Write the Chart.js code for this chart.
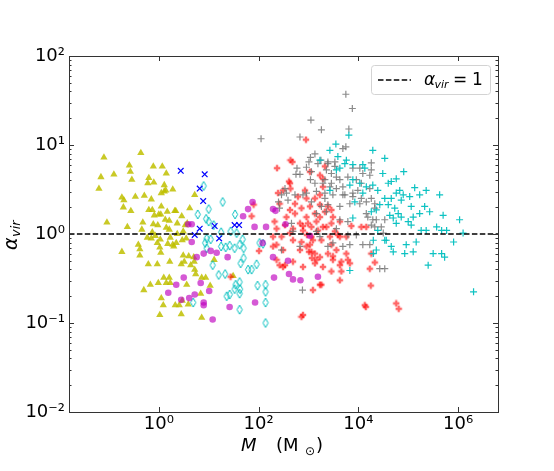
<!DOCTYPE html>
<html>
<head>
<meta charset="utf-8">
<script src="https://cdn.jsdelivr.net/npm/chart.js@4/dist/chart.umd.min.js"></script>
<style>
  html, body { margin: 0; padding: 0; background: #fff; }
  #wrap { width: 554px; height: 471px; }
</style>
</head>
<body>
<div id="wrap"><canvas id="virialChart" width="554" height="471"></canvas></div>
<script>
// values as [log10 M (Msun), log10 alpha_vir]
const yellowTriangles = [[-1.10,0.86],[-0.36,0.91],[-1.16,0.64],[-0.90,0.67],[-1.20,0.51],[-1.04,0.13],[-0.74,-0.20],[-0.59,0.77],[-0.57,0.70],[-0.54,0.61],[-0.74,0.41],[-0.70,0.38],[-0.47,0.42],[-0.71,0.30],[-0.56,0.26],[-0.63,0.08],[-0.32,0.13],[-0.11,0.76],[0.07,0.76],[0.15,0.68],[-0.20,0.63],[-0.22,0.57],[-0.10,0.58],[-0.29,0.43],[-0.15,0.39],[0.11,0.55],[0.11,0.48],[0.05,0.46],[0.14,0.49],[0.28,0.50],[0.05,0.31],[-0.20,0.27],[-0.13,0.27],[0.00,0.22],[0.04,0.22],[0.17,0.25],[0.32,0.26],[0.34,0.26],[0.62,0.29],[0.72,0.44],[0.46,0.20],[-0.09,0.21],[0.13,0.16],[0.21,0.15],[-0.11,0.11],[-0.02,0.10],[0.15,0.07],[0.21,0.05],[0.37,0.12],[0.53,0.10],[0.57,0.12],[0.49,0.03],[-0.34,0.05],[-0.23,-0.04],[-0.13,0.02],[-0.07,-0.02],[-0.15,-0.05],[0.03,-0.06],[-0.03,-0.10],[0.23,-0.04],[0.37,0.00],[0.28,-0.12],[0.18,-0.11],[0.35,-0.10],[0.30,-0.14],[0.47,-0.07],[0.55,-0.05],[0.02,-0.15],[-0.41,-0.12],[-0.38,-0.17],[-0.38,-0.24],[0.04,-0.21],[0.22,-0.31],[0.49,-0.24],[0.51,-0.31],[0.60,-0.25],[0.70,-0.26],[-0.21,-0.34],[-0.03,-0.34],[0.45,-0.34],[0.64,-0.35],[0.71,-0.31],[0.72,-0.40],[0.74,-0.45],[0.10,-0.49],[0.15,-0.55],[0.23,-0.55],[0.21,-0.49],[0.86,-0.49],[0.94,-0.49],[1.03,-0.58],[-0.17,-0.57],[-0.30,-0.63],[0.05,-0.72],[0.33,-0.80],[0.41,-0.80],[0.09,-0.80],[0.47,-0.75],[0.59,-0.79],[0.84,-0.67],[0.56,-0.57],[-0.01,-0.55],[0.86,-0.94],[1.49,-0.47],[0.02,-0.91],[1.11,-0.29],[0.45,-0.90]];
const blueCrosses = [[0.44,0.71],[0.92,0.67],[0.82,0.51],[0.89,0.37],[1.12,0.09],[0.82,0.06],[0.72,-0.01],[1.21,-0.05],[1.52,0.10],[1.61,0.10]];
const cyanDiamonds = [[0.90,0.54],[1.28,0.36],[1.00,0.28],[0.78,0.22],[0.95,0.17],[1.00,0.14],[1.10,0.10],[1.25,0.02],[1.53,0.22],[1.44,0.03],[1.56,0.01],[0.96,-0.05],[1.04,-0.06],[0.96,-0.16],[0.93,-0.10],[1.25,-0.14],[1.34,-0.15],[1.42,-0.13],[1.68,-0.06],[1.70,-0.16],[1.62,-0.12],[1.52,-0.16],[1.70,-0.27],[1.64,-0.33],[1.08,-0.35],[1.20,-0.46],[1.33,-0.45],[1.96,-0.34],[1.79,-0.40],[1.54,-0.57],[1.62,-0.54],[1.52,-0.62],[1.63,-0.62],[1.36,-0.70],[1.42,-0.68],[1.62,-0.67],[0.69,-0.77],[1.62,-0.85],[1.98,-0.58],[2.14,-0.57],[2.14,-0.65],[2.14,-0.77],[2.14,-1.00],[2.02,-0.10],[2.09,-0.11],[1.86,-0.40]];
const magentaCircles = [[0.59,0.11],[0.66,0.11],[0.66,-0.09],[0.76,-0.26],[0.90,-0.22],[1.04,-0.19],[1.16,-0.21],[1.38,-0.26],[0.50,-0.49],[0.35,-0.57],[0.19,-0.66],[0.72,-0.68],[0.84,-0.55],[0.61,-0.72],[0.45,-0.74],[0.90,-0.77],[0.90,-0.80],[1.42,-0.82],[1.08,-0.96],[1.93,-0.77],[1.88,0.36],[1.79,0.28],[1.69,0.20],[1.92,0.08],[2.15,0.08],[2.29,0.28],[2.34,0.26],[2.54,0.11],[2.08,-0.10],[2.29,-0.26],[2.59,-0.30],[2.61,-0.45],[2.69,-0.51],[2.84,-0.52],[3.19,-0.48],[2.31,-0.49],[3.03,-0.02],[1.01,-0.64]];
const redPlus = [[2.95,1.06],[2.68,0.81],[2.37,0.74],[2.64,0.83],[3.03,0.70],[3.23,0.66],[3.33,0.76],[3.29,0.62],[2.61,0.59],[2.63,0.57],[2.64,0.51],[2.39,0.46],[2.49,0.49],[2.93,0.49],[3.23,0.44],[3.29,0.53],[2.42,0.34],[2.63,0.27],[2.86,0.29],[3.03,0.31],[3.23,0.33],[3.39,0.31],[2.73,0.34],[2.79,0.42],[2.96,0.40],[3.13,0.40],[2.56,0.19],[2.73,0.23],[2.96,0.19],[3.13,0.23],[3.33,0.25],[3.46,0.27],[3.23,0.19],[3.49,0.19],[2.32,0.14],[2.36,0.06],[2.53,0.10],[2.69,0.06],[2.83,0.12],[2.99,0.12],[3.06,0.08],[3.16,0.14],[3.29,0.08],[3.36,0.08],[3.46,0.12],[3.63,0.14],[3.53,0.03],[2.89,0.04],[2.97,-0.01],[3.19,0.04],[2.89,0.09],[2.29,-0.03],[2.46,-0.03],[2.63,0.01],[2.69,-0.07],[2.86,-0.09],[3.06,-0.03],[3.09,-0.07],[3.26,-0.07],[3.43,-0.03],[3.59,-0.01],[3.63,-0.03],[3.76,-0.03],[2.36,-0.12],[2.29,-0.14],[2.49,-0.18],[2.83,-0.18],[2.96,-0.14],[3.03,-0.12],[3.01,-0.20],[3.06,-0.20],[3.13,-0.22],[3.23,-0.26],[3.39,-0.22],[3.46,-0.12],[3.49,-0.25],[3.56,-0.18],[3.76,-0.22],[2.01,-0.19],[2.36,-0.29],[2.42,-0.35],[2.53,-0.35],[2.49,-0.37],[2.69,-0.31],[2.89,-0.37],[3.07,-0.27],[3.13,-0.33],[3.16,-0.29],[3.29,-0.37],[3.49,-0.29],[3.66,-0.31],[3.79,-0.29],[3.63,-0.35],[3.83,-0.33],[3.46,-0.42],[3.66,-0.42],[3.09,-0.63],[3.23,-0.57],[3.26,-0.57],[3.63,-0.52],[2.86,-0.93],[2.89,-0.91],[4.25,-0.58],[4.15,-0.82],[4.13,-0.80],[4.33,-0.32],[4.26,-0.22],[4.23,-0.39],[4.06,0.08],[4.16,0.08],[3.86,0.09],[1.86,0.20],[1.90,0.33],[1.44,-0.48],[4.76,-0.78],[4.81,-0.84]];
const grayPlus = [[3.75,1.57],[3.88,1.41],[3.05,1.28],[3.26,1.17],[2.05,1.07],[2.83,1.09],[3.81,1.18],[3.75,0.98],[3.69,0.96],[3.13,0.90],[3.04,0.86],[3.01,0.81],[3.25,0.83],[3.39,0.81],[3.19,0.79],[3.39,0.79],[3.53,0.81],[3.53,0.76],[2.77,0.74],[2.83,0.67],[2.75,0.67],[2.96,0.75],[3.06,0.70],[3.36,0.72],[3.46,0.68],[3.56,0.64],[3.63,0.61],[3.33,0.61],[3.04,0.61],[3.13,0.57],[3.29,0.57],[3.46,0.57],[3.43,0.53],[3.56,0.51],[3.69,0.53],[3.79,0.64],[3.89,0.74],[3.96,0.61],[4.03,0.74],[4.09,0.68],[4.26,0.80],[4.26,0.72],[4.23,0.66],[4.06,0.57],[4.23,0.51],[3.99,0.49],[3.89,0.46],[3.69,0.44],[3.49,0.44],[3.33,0.46],[3.16,0.48],[2.53,0.51],[2.46,0.44],[2.56,0.46],[2.73,0.44],[2.89,0.44],[2.59,0.38],[2.96,0.46],[2.40,0.36],[3.06,0.36],[3.33,0.40],[3.39,0.33],[3.26,0.31],[3.63,0.31],[3.73,0.44],[3.83,0.34],[3.89,0.42],[4.03,0.34],[4.06,0.40],[4.16,0.36],[4.26,0.40],[4.33,0.34],[4.33,0.29],[4.16,0.23],[4.19,0.19],[2.42,0.29],[3.16,0.23],[3.36,0.25],[4.36,0.16],[4.29,0.16],[4.53,0.16],[4.26,0.10],[4.33,0.08],[4.46,0.08],[4.50,0.01],[3.63,0.16],[3.79,0.14],[3.56,0.06],[2.66,0.12],[2.69,0.03],[3.16,0.03],[3.23,-0.03],[3.79,-0.01],[3.96,-0.01],[3.49,-0.10],[3.39,-0.14],[3.69,-0.14],[3.83,-0.12],[4.09,-0.12],[4.23,-0.12],[2.46,-0.18],[2.83,-0.14],[2.88,-0.63],[4.53,-0.39],[4.43,-0.39]];
const cyanPlus = [[4.29,0.94],[4.53,0.85],[4.91,0.70],[4.76,0.62],[4.66,0.59],[4.49,0.68],[4.83,0.49],[5.13,0.52],[5.36,0.49],[5.63,0.44],[5.23,0.44],[5.03,0.42],[4.90,0.44],[4.86,0.38],[5.06,0.31],[5.33,0.31],[5.43,0.25],[5.70,0.21],[5.23,0.23],[5.10,0.19],[5.00,0.14],[5.06,0.10],[4.76,0.12],[4.70,0.18],[4.63,0.21],[4.86,0.19],[5.57,0.08],[5.67,0.04],[5.77,0.04],[6.03,0.16],[6.10,0.01],[5.91,-0.09],[5.36,0.04],[5.26,0.04],[5.16,-0.09],[4.96,-0.12],[4.93,-0.22],[5.10,-0.20],[5.50,-0.22],[5.67,-0.22],[5.73,-0.26],[5.40,-0.35],[4.70,-0.20],[4.56,-0.07],[4.36,-0.18],[3.83,-0.41],[6.31,-0.65],[3.81,1.11],[3.55,1.01],[3.43,0.94],[3.23,0.83],[3.56,0.72],[3.63,0.74],[3.76,0.83],[4.09,0.78],[4.13,0.74],[3.43,0.49],[4.30,-0.22],[3.59,0.87],[3.73,0.79],[3.89,0.78],[3.89,0.61],[3.83,0.55],[4.03,0.57],[4.16,0.53],[4.29,0.55],[4.39,0.49],[4.60,0.57],[4.76,0.46],[4.66,0.40],[4.53,0.40],[4.43,0.33],[4.60,0.33],[4.73,0.29],[4.80,0.23],[4.36,0.27],[4.09,0.46],[3.93,0.36],[3.89,0.18],[4.26,0.25],[4.39,0.04],[4.53,-0.07],[4.30,-0.07],[4.66,-0.14]];

const xLimits = [-1.8, 6.8];       // log10 M
const yLimits = [-2, 2];           // log10 alpha_vir
const xTickValues = [1, 1e2, 1e4, 1e6];
const xTickLabels = ['10⁰', '10²', '10⁴', '10⁶'];
const yTickValues = [1e-2, 1e-1, 1, 10, 100];
const yTickLabels = ['10⁻²', '10⁻¹', '10⁰', '10¹', '10²'];

const FONT = '"DejaVu Sans", sans-serif';

function toPoints(arr) {
  return arr.map(p => ({ x: Math.pow(10, p[0]), y: Math.pow(10, p[1]) }));
}

// thin open diamond marker
function makeDiamond() {
  const c = document.createElement('canvas');
  c.width = 8; c.height = 11;
  const g = c.getContext('2d');
  g.strokeStyle = '#00bfbf';
  g.lineWidth = 1;
  g.beginPath();
  g.moveTo(4, 1); g.lineTo(6.6, 5.5); g.lineTo(4, 10); g.lineTo(1.4, 5.5);
  g.closePath();
  g.stroke();
  return c;
}

// filled plus marker
function makeFilledPlus() {
  const c = document.createElement('canvas');
  c.width = 8; c.height = 8;
  const g = c.getContext('2d');
  g.fillStyle = 'rgba(255,0,0,0.6)';
  g.beginPath();
  g.moveTo(2.8, 0.8); g.lineTo(5.2, 0.8); g.lineTo(5.2, 2.8); g.lineTo(7.2, 2.8);
  g.lineTo(7.2, 5.2); g.lineTo(5.2, 5.2); g.lineTo(5.2, 7.2); g.lineTo(2.8, 7.2);
  g.lineTo(2.8, 5.2); g.lineTo(0.8, 5.2); g.lineTo(0.8, 2.8); g.lineTo(2.8, 2.8);
  g.closePath();
  g.fill();
  return c;
}

// frame + inward ticks + axis titles + legend
const decorPlugin = {
  id: 'decor',
  afterDraw(chart) {
    const ctx = chart.ctx;
    const a = chart.chartArea;
    const xs = chart.scales.x, ys = chart.scales.y;
    ctx.save();
    ctx.strokeStyle = '#333';
    ctx.lineWidth = 1;
    ctx.strokeRect(Math.round(a.left) + 0.5, Math.round(a.top) + 0.5,
                   Math.round(a.right - a.left), Math.round(a.bottom - a.top));

    ctx.beginPath();
    xTickValues.forEach(v => {
      const px = Math.round(xs.getPixelForValue(v)) + 0.5;
      ctx.moveTo(px, a.bottom); ctx.lineTo(px, a.bottom - 5);
      ctx.moveTo(px, a.top); ctx.lineTo(px, a.top + 5);
    });
    for (let e = yLimits[0]; e <= yLimits[1]; e++) {
      for (let k = 1; k <= 9; k++) {
        const v = k * Math.pow(10, e);
        if (v > Math.pow(10, yLimits[1]) + 1e-9) break;
        const py = Math.round(ys.getPixelForValue(v)) + 0.5;
        const len = k === 1 ? 5 : 2.5;
        ctx.moveTo(a.left, py); ctx.lineTo(a.left + len, py);
        ctx.moveTo(a.right, py); ctx.lineTo(a.right - len, py);
      }
    }
    ctx.stroke();

    // y title
    ctx.fillStyle = '#000';
    ctx.save();
    ctx.translate(17, 250);
    ctx.rotate(-Math.PI / 2);
    ctx.textBaseline = 'alphabetic';
    ctx.font = 'italic 19px ' + FONT;
    ctx.fillText('α', 0, 0);
    const aw = ctx.measureText('α').width;
    ctx.font = 'italic 13px ' + FONT;
    ctx.fillText('vir', aw + 0.5, 3);
    ctx.restore();

    // x title
    ctx.font = 'italic 18px ' + FONT;
    ctx.fillText('M', 241, 451);
    ctx.font = '18px ' + FONT;
    ctx.fillText('(M', 276, 451);
    ctx.font = '12px ' + FONT;
    ctx.fillText('⊙', 305, 455);
    ctx.font = '18px ' + FONT;
    ctx.fillText(')', 316, 451);

    // legend
    ctx.beginPath();
    ctx.roundRect(371.5, 65.5, 119, 29, 3);
    ctx.fillStyle = 'rgba(255,255,255,0.85)';
    ctx.fill();
    ctx.strokeStyle = '#d3d3d3';
    ctx.stroke();
    ctx.beginPath();
    ctx.setLineDash([5.5, 2.4]);
    ctx.strokeStyle = '#000';
    ctx.lineWidth = 1.5;
    ctx.moveTo(378, 80); ctx.lineTo(411, 80);
    ctx.stroke();
    ctx.setLineDash([]);
    ctx.fillStyle = '#000';
    ctx.font = 'italic 17px ' + FONT;
    ctx.fillText('α', 424, 85);
    ctx.font = 'italic 11px ' + FONT;
    ctx.fillText('vir', 434.5, 88);
    ctx.font = '17px ' + FONT;
    ctx.fillText('=', 453, 85);
    ctx.fillText('1', 472, 85);
    ctx.restore();
  }
};

const ctx = document.getElementById('virialChart').getContext('2d');
new Chart(ctx, {
  type: 'scatter',
  data: {
    datasets: [
      {
        type: 'line',
        label: 'alpha_vir = 1',
        data: [{ x: Math.pow(10, xLimits[0]), y: 1 }, { x: Math.pow(10, xLimits[1]), y: 1 }],
        borderColor: '#000',
        borderWidth: 1.5,
        borderDash: [5.5, 2.4],
        pointRadius: 0,
        fill: false
      },
      {
        label: 'magenta',
        data: toPoints(magentaCircles),
        pointStyle: 'circle',
        pointRadius: 3.3,
        backgroundColor: 'rgba(191,0,191,0.65)',
        borderWidth: 0
      },
      {
        label: 'blue',
        data: toPoints(blueCrosses),
        pointStyle: 'crossRot',
        pointRadius: 4,
        borderColor: '#0000ff',
        borderWidth: 1.2
      },
      {
        label: 'cyan diamonds',
        data: toPoints(cyanDiamonds),
        pointStyle: makeDiamond()
      },
      {
        label: 'cyan plus',
        data: toPoints(cyanPlus),
        pointStyle: 'cross',
        pointRadius: 3.5,
        borderColor: 'rgba(0,191,191,0.95)',
        borderWidth: 1.2
      },
      {
        label: 'gray plus',
        data: toPoints(grayPlus),
        pointStyle: 'cross',
        pointRadius: 3.5,
        borderColor: 'rgba(110,110,110,0.8)',
        borderWidth: 1.2
      },
      {
        label: 'red',
        data: toPoints(redPlus),
        pointStyle: makeFilledPlus()
      },
      {
        label: 'yellow',
        data: toPoints(yellowTriangles),
        pointStyle: 'triangle',
        pointRadius: 4.2,
        backgroundColor: 'rgba(191,191,0,0.85)',
        borderWidth: 0
      }
    ]
  },
  options: {
    responsive: false,
    animation: false,
    events: [],
    layout: { padding: { left: 0, right: 56, top: 56, bottom: 0 } },
    plugins: { legend: { display: false }, tooltip: { enabled: false } },
    scales: {
      x: {
        type: 'logarithmic',
        min: Math.pow(10, xLimits[0]),
        max: Math.pow(10, xLimits[1]),
        afterBuildTicks: s => { s.ticks = xTickValues.map(v => ({ value: v })); },
        afterFit: s => { s.height = 59; },
        grid: { display: false, drawTicks: false },
        border: { display: false },
        ticks: {
          autoSkip: false,
          maxRotation: 0,
          padding: 2,
          color: '#000',
          font: { family: FONT, size: 18 },
          callback: v => xTickLabels[xTickValues.indexOf(v)]
        }
      },
      y: {
        type: 'logarithmic',
        min: Math.pow(10, yLimits[0]),
        max: Math.pow(10, yLimits[1]),
        afterBuildTicks: s => { s.ticks = yTickValues.map(v => ({ value: v })); },
        afterFit: s => { s.width = 69; },
        grid: { display: false, drawTicks: false },
        border: { display: false },
        ticks: {
          autoSkip: false,
          padding: 4,
          color: '#000',
          font: { family: FONT, size: 18 },
          callback: v => yTickLabels[yTickValues.indexOf(v)]
        }
      }
    }
  },
  plugins: [decorPlugin]
});
</script>
</body>
</html>
